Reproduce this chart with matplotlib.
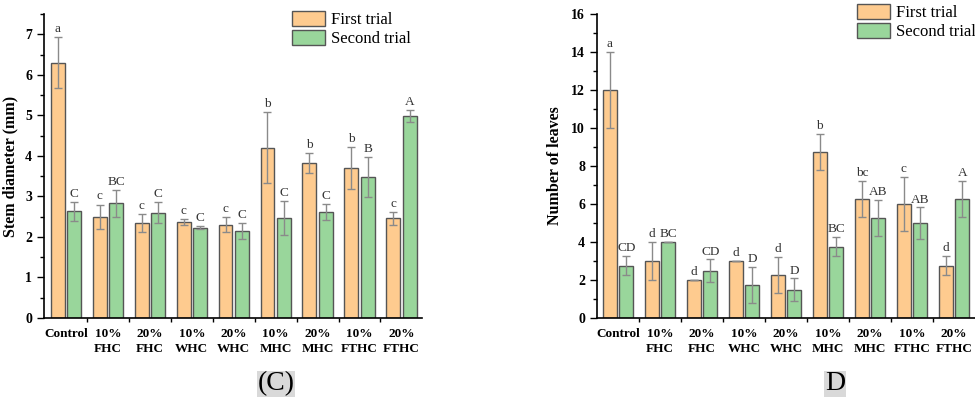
import matplotlib
matplotlib.use("Agg")
import matplotlib.pyplot as plt
import numpy as np
from matplotlib.patches import Patch

plt.rcParams["font.family"] = ["Liberation Serif", "DejaVu Serif"]

groups = ["Control", "10%\nFHC", "20%\nFHC", "10%\nWHC", "20%\nWHC",
          "10%\nMHC", "20%\nMHC", "10%\nFTHC", "20%\nFTHC"]

# panel C: stem diameter (mm)
stem_first = [6.30, 2.50, 2.35, 2.37, 2.30, 4.20, 3.82, 3.70, 2.46]
stem_first_err = [0.63, 0.30, 0.22, 0.08, 0.18, 0.87, 0.25, 0.52, 0.16]
stem_second = [2.63, 2.83, 2.60, 2.23, 2.15, 2.47, 2.62, 3.48, 4.98]
stem_second_err = [0.23, 0.33, 0.25, 0.04, 0.20, 0.42, 0.19, 0.49, 0.14]
stem_first_lab = ["a", "c", "c", "c", "c", "b", "b", "b", "c"]
stem_second_lab = ["C", "BC", "C", "C", "C", "C", "C", "B", "A"]

# panel D: number of leaves
leaf_first = [12.0, 3.0, 2.0, 3.0, 2.25, 8.75, 6.25, 6.0, 2.75]
leaf_first_err = [2.0, 1.0, 0.0, 0.0, 0.96, 0.96, 0.96, 1.41, 0.5]
leaf_second = [2.75, 4.0, 2.5, 1.75, 1.5, 3.75, 5.25, 5.0, 6.25]
leaf_second_err = [0.5, 0.0, 0.58, 0.96, 0.58, 0.5, 0.96, 0.82, 0.96]
leaf_first_lab = ["a", "d", "d", "d", "d", "b", "bc", "c", "d"]
leaf_second_lab = ["CD", "BC", "CD", "D", "D", "BC", "AB", "AB", "A"]

ORANGE = "#FECB8F"
GREEN = "#99D69B"
EDGE = "#555555"
ERR = "#8a8a8a"


def draw_panel(ax, first, first_err, second, second_err, lab1, lab2,
               ylim, major, minor, ylabel, pad):
    x = np.arange(len(groups))
    w = 0.33
    off = 0.195
    ekw = dict(ecolor=ERR, elinewidth=1, capsize=3, capthick=1)
    ax.bar(x - off, first, w, color=ORANGE, edgecolor=EDGE, linewidth=1,
           yerr=first_err, error_kw=ekw, zorder=2)
    ax.bar(x + off, second, w, color=GREEN, edgecolor=EDGE, linewidth=1,
           yerr=second_err, error_kw=ekw, zorder=2)
    for i in x:
        ax.text(i - off, first[i] + first_err[i] + pad, lab1[i], ha="center",
                va="bottom", fontsize=9.5, color="#333333")
        ax.text(i + off, second[i] + second_err[i] + pad, lab2[i], ha="center",
                va="bottom", fontsize=9.5, color="#333333")
    ax.set_ylim(*ylim)
    ax.set_yticks(np.arange(0, ylim[1] + 0.01, major))
    ax.set_yticks(np.arange(0, ylim[1] + 0.01, minor), minor=True)
    ax.set_xticks(x)
    ax.set_xticklabels(groups, fontsize=9.5, fontweight="bold", linespacing=1.35)
    ax.set_xticks(np.arange(0.5, len(groups) - 0.9, 1), minor=True)
    ax.tick_params(axis="x", which="major", length=0, pad=7)
    ax.tick_params(axis="x", which="minor", length=3, width=1)
    ax.tick_params(axis="y", which="major", length=5, width=1, labelsize=10)
    ax.tick_params(axis="y", which="minor", length=3, width=1)
    for t in ax.get_yticklabels():
        t.set_fontweight("bold")
    ax.set_ylabel(ylabel, fontsize=11.5, fontweight="bold")
    ax.spines["top"].set_visible(False)
    ax.spines["right"].set_visible(False)
    ax.spines["left"].set_linewidth(1.2)
    ax.spines["bottom"].set_linewidth(1.2)


fig = plt.figure(figsize=(9.75, 4.0), dpi=100)
W, H = 975, 400

ax1 = fig.add_axes([44 / W, 1 - 318 / H, (422 - 44) / W, (318 - 14) / H])
draw_panel(ax1, stem_first, stem_first_err, stem_second, stem_second_err,
           stem_first_lab, stem_second_lab, (0, 7.5), 1, 0.5,
           "Stem diameter (mm)", 0.05)
ax1.set_xlim(-0.525, 8.49)
ax1.yaxis.set_label_coords((18 - 44) / (422 - 44), 0.5)

ax2 = fig.add_axes([597 / W, 1 - 318 / H, (975 - 597) / W, (318 - 14) / H])
draw_panel(ax2, leaf_first, leaf_first_err, leaf_second, leaf_second_err,
           leaf_first_lab, leaf_second_lab, (0, 16), 2, 1,
           "Number of leaves", 0.1)
ax2.set_xlim(-0.5, 8.5)
ax2.yaxis.set_label_coords((563 - 597) / (975 - 597), 0.5)

handles = [Patch(facecolor=ORANGE, edgecolor=EDGE, label="First trial"),
           Patch(facecolor=GREEN, edgecolor=EDGE, label="Second trial")]
leg_kw = dict(frameon=False, fontsize=12, handlelength=2.0, handleheight=1.0,
              handletextpad=0.35, labelspacing=0.12, borderpad=0,
              borderaxespad=0)
fig.legend(handles=handles, loc="upper left",
           bbox_to_anchor=(292 / W, 1 - 11 / H), **leg_kw)
fig.legend(handles=handles, loc="upper left",
           bbox_to_anchor=(857 / W, 1 - 4 / H), **leg_kw)

fig.text(276 / W, 1 - 384 / H, "(C)", ha="center", va="center", fontsize=20,
         bbox=dict(facecolor="#d9d9d9", edgecolor="none", pad=0.5))
fig.text(835 / W, 1 - 384 / H, "D", ha="center", va="center", fontsize=20,
         bbox=dict(facecolor="#d9d9d9", edgecolor="none", pad=0.5))

fig.savefig("out.png", dpi=100)
